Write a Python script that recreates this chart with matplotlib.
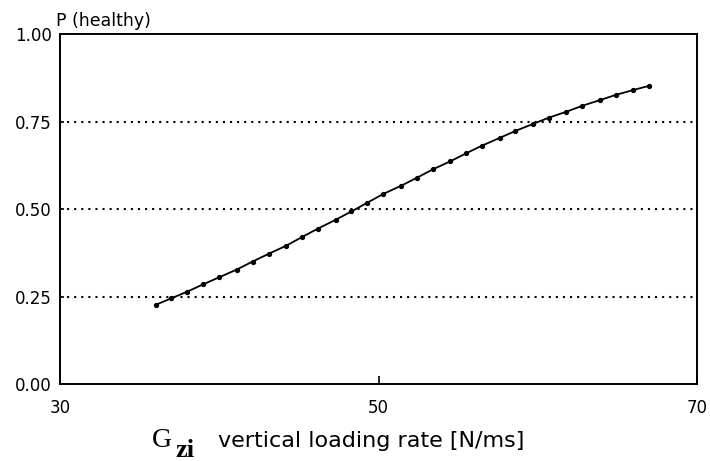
import numpy as np
import matplotlib
matplotlib.use("Agg")
import matplotlib.pyplot as plt
from matplotlib.ticker import FormatStrFormatter

# Probability of a healthy outcome vs. vertical loading rate
loading_rate = [36.0, 37.0, 38.0, 39.0, 40.0, 41.1, 42.1, 43.1, 44.2, 45.2,
                46.2, 47.3, 48.3, 49.3, 50.3, 51.4, 52.4, 53.4, 54.5, 55.5,
                56.5, 57.6, 58.6, 59.7, 60.7, 61.8, 62.8, 63.9, 64.9, 66.0,
                67.0]
p_healthy = [0.226, 0.245, 0.264, 0.285, 0.305, 0.327, 0.350, 0.372, 0.395, 0.420,
             0.444, 0.469, 0.493, 0.518, 0.543, 0.566, 0.589, 0.613, 0.636, 0.659,
             0.681, 0.703, 0.723, 0.743, 0.761, 0.778, 0.795, 0.811, 0.826, 0.840,
             0.852]

x_ticks = [30, 50, 70]
y_ticks = [0.00, 0.25, 0.50, 0.75, 1.00]
ref_levels = [0.25, 0.50, 0.75]

W, H = 710, 461
fig = plt.figure(figsize=(W / 100, H / 100), dpi=100)
ax = fig.add_axes([60 / W, 1 - 384 / H, 637 / W, 350 / H])

for lvl in ref_levels:
    ax.axhline(lvl, color="black", linewidth=1.5, linestyle=(0, (1, 2.4)), zorder=1)

ax.plot(loading_rate, p_healthy, color="black", linewidth=1.3,
        marker="o", markersize=2.8, zorder=3)

ax.set_xlim(30, 70)
ax.set_ylim(0, 1)
ax.set_xticks(x_ticks)
ax.set_yticks(y_ticks)
ax.yaxis.set_major_formatter(FormatStrFormatter("%.2f"))

ax.tick_params(axis="x", direction="in", length=6, width=1.2, pad=11, labelsize=12)
ax.tick_params(axis="y", direction="in", length=3, width=1.2, pad=6, labelsize=12)
for spine in ax.spines.values():
    spine.set_linewidth(1.4)

# y axis title sits above the frame
ax.text(56 / W, 1 - 26 / H, "P (healthy)", transform=fig.transFigure,
        fontsize=12.5, ha="left", va="baseline")

# x axis title: serif symbol with bold subscript, then description
fig.text(152 / W, 1 - 447 / H, "G", family="Liberation Serif", fontsize=20,
         ha="left", va="baseline")
fig.text(175 / W, 1 - 457 / H, "zi", family="Liberation Serif", fontsize=19,
         fontweight="bold", ha="left", va="baseline")
fig.text(218 / W, 1 - 447 / H, "vertical loading rate [N/ms]", fontsize=16,
         ha="left", va="baseline")

fig.savefig("out.png", dpi=100)
